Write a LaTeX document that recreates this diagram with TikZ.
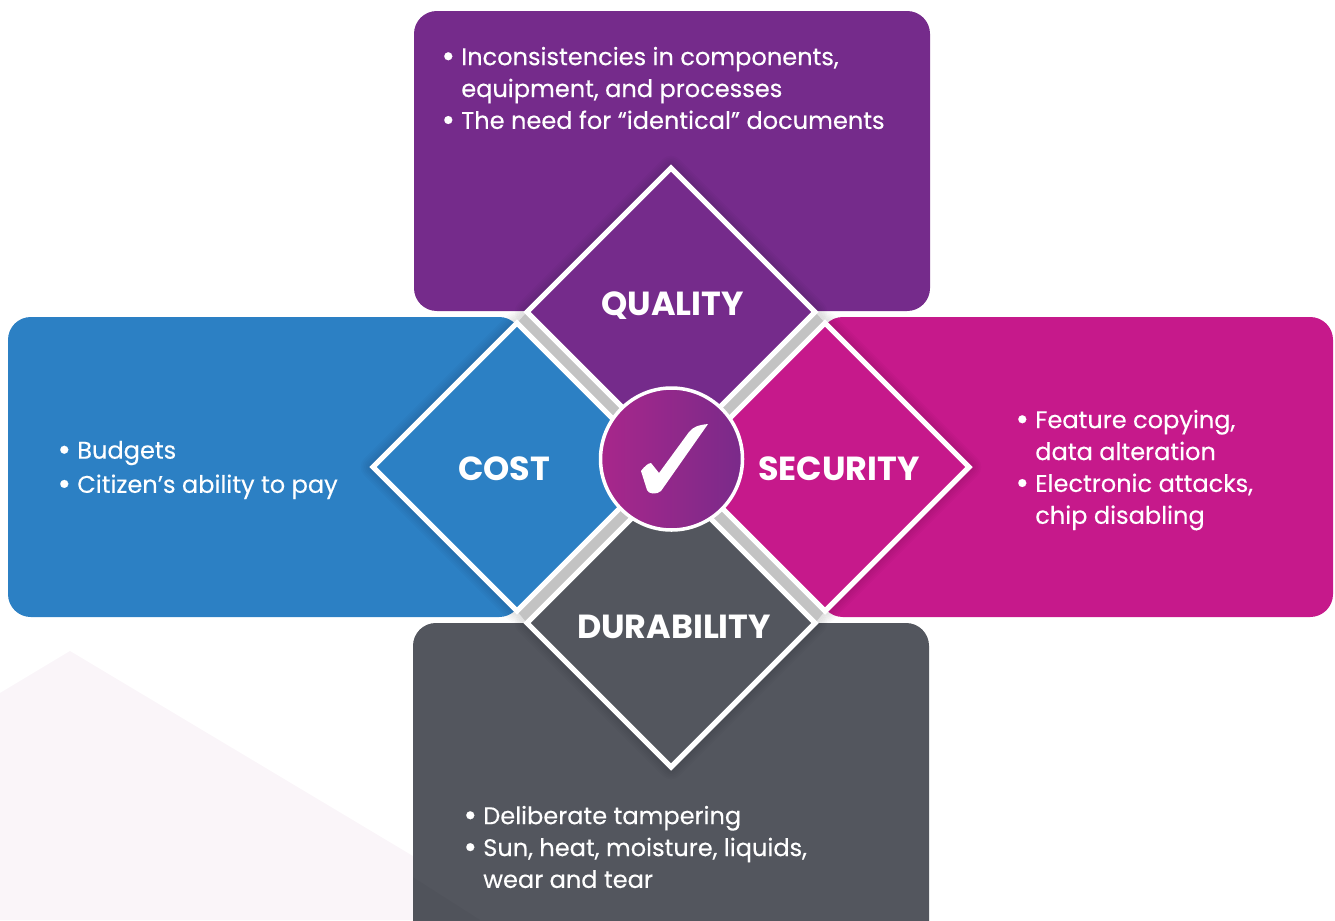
\documentclass[tikz,border=0pt]{standalone}
\usepackage{fontspec}
\usepackage{xcolor}
\setmainfont{Poppins}[FakeBold=0.25]
\newfontfamily\titlefont{Poppins}[Scale=1]

\definecolor{qualitypurple}{HTML}{752B8B}
\definecolor{costblue}{HTML}{2C80C4}
\definecolor{securitypink}{HTML}{C6198B}
\definecolor{durabilitygray}{HTML}{53565E}
\definecolor{paleback}{HTML}{FAF5F9}
\definecolor{bandgray}{HTML}{C3C3C3}
\definecolor{circleleft}{HTML}{A8278B}
\definecolor{circlemid}{HTML}{9C278B}
\definecolor{circleright}{HTML}{7A2A8A}

\newcommand{\bul}{\makebox[10.2pt][l]{\hspace*{-1pt}\raisebox{-1.1pt}{\scalebox{1.35}{\textbullet}}}}
\newcommand{\ind}{\hspace*{10.2pt}}

\tikzset{
    box/.style={rounded corners=13pt},
    diam/.style={draw=white, line width=3pt, miter limit=10},
    listtext/.style={text=white, anchor=north west, align=left, inner sep=0pt,
        font=\fontsize{13.7}{18.14}\selectfont},
    title/.style={text=white, inner sep=0pt, font=\titlefont\fontsize{19}{22}\selectfont\bfseries}
}

\begin{document}
\begin{tikzpicture}[x=0.02cm, y=-0.02cm]
    \useasboundingbox (0,0) rectangle (1335,920);
    \clip (0,0) rectangle (1335,920);

    % Pale background shape
    \fill[paleback] (0,693) -- (70,651) -- (520,920) -- (0,920) -- cycle;

    % Boxes
    \fill[box, qualitypurple] (414,11) rectangle (930,311);
    \fill[box, costblue] (8,317) rectangle (522,617);
    \fill[box, securitypink] (820,317) rectangle (1333,617);
    \fill[box, durabilitygray] (413,623) rectangle (929,950);
    \begin{scope}
        \clip (413,800) rectangle (929,920);
        \fill[black, opacity=0.03] (386,860) -- (480,920) -- (413,920) -- (413,877) -- cycle;
    \end{scope}

    % Soft shadows round the diamonds
    \foreach \cx/\cy in {671/312, 517/467, 825/467, 671/623} {
        \foreach \w in {4,6,...,14} {
            \draw[black, opacity=0.02, line width=\w pt, line join=round]
                (\cx,\cy-144) -- (\cx+144,\cy) -- (\cx,\cy+144) -- (\cx-144,\cy) -- cycle;
        }
    }

    % Gray bands
    \fill[bandgray] (527,312) -- (517,323) -- (661,467) -- (671,456) -- cycle;
    \fill[bandgray] (815,312) -- (825,323) -- (681,467) -- (671,456) -- cycle;
    \fill[bandgray] (517,611) -- (527,623) -- (671,479) -- (661,467) -- cycle;
    \fill[bandgray] (825,611) -- (815,623) -- (671,479) -- (681,467) -- cycle;

    % Diamonds
    \draw[diam, fill=qualitypurple] (671,168) -- (815,312) -- (671,456) -- (527,312) -- cycle;
    \draw[diam, fill=costblue] (517,323) -- (661,467) -- (517,611) -- (373,467) -- cycle;
    \draw[diam, fill=securitypink] (825,323) -- (969,467) -- (825,611) -- (681,467) -- cycle;
    \draw[diam, fill=durabilitygray] (671,479) -- (815,623) -- (671,767) -- (527,623) -- cycle;

    % Titles
    \node[title] (quality) at (672.5,306) {QUALITY};
    \node[title] (cost) at (504,469) {COST};
    \node[title] (security) at (839,469) {SECURITY};
    \node[title] (durability) at (674,627) {DURABILITY};

    % Centre circle with tick
    \shade[left color=circleleft, middle color=circlemid, right color=circleright, draw=white, line width=2pt]
        (671.5,459) circle (71);
    \fill[white] (708,424) .. controls (698,425) and (693,427) .. (689,432)
        -- (659,473) -- (651,463)
        .. controls (648,463) and (644,467) .. (641,471)
        -- (647,490) .. controls (648,494) and (657,495) .. (661,491)
        -- cycle;

    % Lists
    \node[listtext] (qualitylist) at (443,46.5) {\bul Inconsistencies in components,\\ \ind equipment, and processes\\ \bul The need for “identical” documents};
    \node[listtext] (costlist) at (59,440.5) {\bul Budgets\\[1.3pt] \bul Citizen’s ability to pay};
    \node[listtext] (securitylist) at (1017,409.5) {\bul Feature copying,\\ \ind data alteration\\ \bul Electronic attacks,\\ \ind chip disabling};
    \node[listtext] (durabilitylist) at (465,805.5) {\bul Deliberate tampering\\ \bul Sun, heat, moisture, liquids,\\ \ind wear and tear};
\end{tikzpicture}
\end{document}
